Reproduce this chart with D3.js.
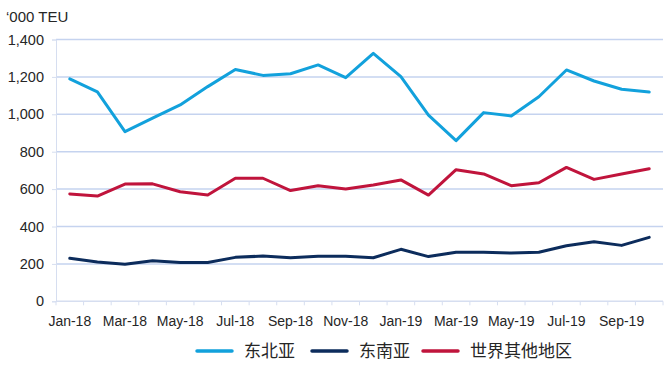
<!DOCTYPE html>
<html>
<head>
<meta charset="utf-8">
<script src="https://cdn.jsdelivr.net/npm/d3@7.9.0/dist/d3.min.js"></script>
<style>
  body { margin: 0; background: #fff; }
  svg { display: block; font-family: Arial, "Liberation Sans", sans-serif; }
</style>
</head>
<body>
<div id="chart"></div>
<script>
const months = ['Jan-18','Feb-18','Mar-18','Apr-18','May-18','Jun-18','Jul-18','Aug-18','Sep-18','Oct-18','Nov-18','Dec-18',
  'Jan-19','Feb-19','Mar-19','Apr-19','May-19','Jun-19','Jul-19','Aug-19','Sep-19','Oct-19'];

const northeastAsia = [1190, 1120, 907, 980, 1050, 1148, 1240, 1208, 1217, 1264, 1196, 1326,
  1201, 996, 859, 1009, 991, 1094, 1237, 1178, 1134, 1119];
const southeastAsia = [230, 210, 198, 217, 208, 208, 235, 242, 233, 241, 241, 233,
  278, 239, 262, 262, 258, 262, 297, 319, 299, 342];
const restOfWorld = [574, 563, 627, 628, 586, 568, 658, 658, 592, 618, 600, 622,
  649, 568, 704, 681, 618, 634, 716, 652, 681, 709];

const seriesNames = ['东北亚', '东南亚', '世界其他地区'];
const seriesColors = ['#12a1dc', '#0c2c5c', '#c0143c'];
const yTicks = [0, 200, 400, 600, 800, 1000, 1200, 1400];

const series = [northeastAsia, southeastAsia, restOfWorld].map((values, i) => ({
  name: seriesNames[i],
  color: seriesColors[i],
  values
}));

const width = 670;
const height = 380;
const margin = { top: 40, right: 7, bottom: 79, left: 56 };

const svg = d3.select('#chart')
  .append('svg')
  .attr('width', width)
  .attr('height', height);

const xScale = d3.scaleBand()
  .domain(months)
  .range([margin.left, width - margin.right]);

const yScale = d3.scaleLinear()
  .domain([0, 1400])
  .range([height - margin.bottom + 0.3, margin.top - 0.5]);

// gridlines
svg.append('g')
  .selectAll('line')
  .data(yTicks.filter(d => d > 0))
  .join('line')
  .attr('x1', margin.left)
  .attr('x2', width - margin.right)
  .attr('y1', d => yScale(d))
  .attr('y2', d => yScale(d))
  .attr('stroke', '#c5d3ef')
  .attr('stroke-width', 1.5);

// y axis
const yAxis = svg.append('g')
  .attr('transform', `translate(${margin.left}, 0)`)
  .call(d3.axisLeft(yScale).tickValues(yTicks).tickSize(4).tickFormat(d3.format(',')));
yAxis.select('.domain').attr('stroke', '#d6def0');
yAxis.selectAll('.tick line').attr('stroke', '#d6def0');
yAxis.selectAll('text')
  .attr('x', -12)
  .attr('fill', '#262626')
  .style('font-size', '14.5px')
  .style('font-family', 'Arial, "Liberation Sans", sans-serif');

// x axis
const xBottom = yScale(0);
const xAxis = svg.append('g')
  .attr('transform', `translate(0, ${xBottom})`);
xAxis.append('line')
  .attr('x1', margin.left)
  .attr('x2', width - margin.right)
  .attr('stroke', '#d6def0')
  .attr('stroke-width', 1.5);
xAxis.selectAll('.mtick')
  .data(months.concat(['end']))
  .join('line')
  .attr('class', 'mtick')
  .attr('x1', (d, i) => margin.left + i * xScale.step())
  .attr('x2', (d, i) => margin.left + i * xScale.step())
  .attr('y1', 0)
  .attr('y2', 4)
  .attr('stroke', '#d6def0');
xAxis.selectAll('text')
  .data(months.filter((d, i) => i % 2 === 0))
  .join('text')
  .attr('x', d => xScale(d) + xScale.bandwidth() / 2)
  .attr('y', 25)
  .attr('text-anchor', 'middle')
  .attr('fill', '#262626')
  .style('font-size', '14px')
  .text(d => d);

// unit label
svg.append('text')
  .attr('x', 6)
  .attr('y', 22)
  .attr('fill', '#262626')
  .style('font-size', '15px')
  .text('\u2018000 TEU');

// lines
const line = d3.line()
  .x((d, i) => xScale(months[i]) + xScale.bandwidth() / 2)
  .y(d => yScale(d));

svg.append('g')
  .selectAll('path')
  .data(series)
  .join('path')
  .attr('d', d => line(d.values))
  .attr('fill', 'none')
  .attr('stroke', d => d.color)
  .attr('stroke-width', 3)
  .attr('stroke-linejoin', 'round')
  .attr('stroke-linecap', 'round');

// legend
const legendX = [197, 312, 423];
const legend = svg.append('g')
  .selectAll('g')
  .data(series)
  .join('g')
  .attr('transform', (d, i) => `translate(${legendX[i]}, 351)`);
legend.append('line')
  .attr('x1', 0)
  .attr('x2', 35)
  .attr('stroke', d => d.color)
  .attr('stroke-width', 3.5)
  .attr('stroke-linecap', 'round');
legend.append('text')
  .attr('x', 47)
  .attr('y', 6)
  .attr('fill', '#262626')
  .style('font-size', '17px')
  .style('font-family', '"Noto Sans CJK SC", sans-serif')
  .text(d => d.name);
</script>
</body>
</html>
